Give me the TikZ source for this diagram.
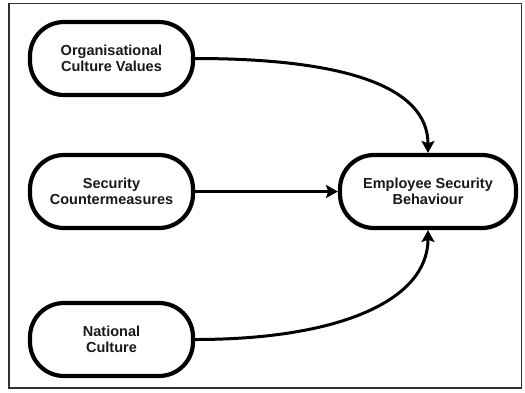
\documentclass[tikz,border=0pt]{standalone}
\usepackage{fontspec}
\setmainfont{Liberation Sans}
\usetikzlibrary{arrows.meta}
\definecolor{txt}{RGB}{25,25,25}
\definecolor{frame}{RGB}{50,50,50}
\tikzset{
  pill/.style={draw=black, line width=4.2pt, rounded corners=34pt, fill=white,
    minimum width=163pt, minimum height=73pt, align=center, inner sep=0pt,
    text=txt, font=\bfseries\fontsize{14.5}{16.5}\selectfont},
  link/.style={draw=black, line width=3pt,
    -{Stealth[length=12pt,width=13pt,inset=2.5pt]}}
}
\begin{document}
\begin{tikzpicture}[x=1pt,y=-1pt]
\useasboundingbox (0,0) rectangle (525,392);
\draw[frame, line width=1.6pt] (9,3.5) rectangle (521.5,388);
\node[pill] (ocv) at (111.5,58.5) {Organisational\\Culture Values};
\node[pill] (sc) at (111.5,191.5) {Security\\Countermeasures};
\node[pill] (nc) at (111.5,339.5) {National\\Culture};
\node[pill, minimum width=176pt] (esb) at (428,191.5) {Employee Security\\Behaviour};
\draw[link] (ocv.east) .. controls +(145,0) and +(0,-68) .. (esb.north);
\draw[link] (sc.east) -- (esb.west);
\draw[link] (nc.east) .. controls +(145,0) and +(0,70) .. (esb.south);
\end{tikzpicture}
\end{document}
